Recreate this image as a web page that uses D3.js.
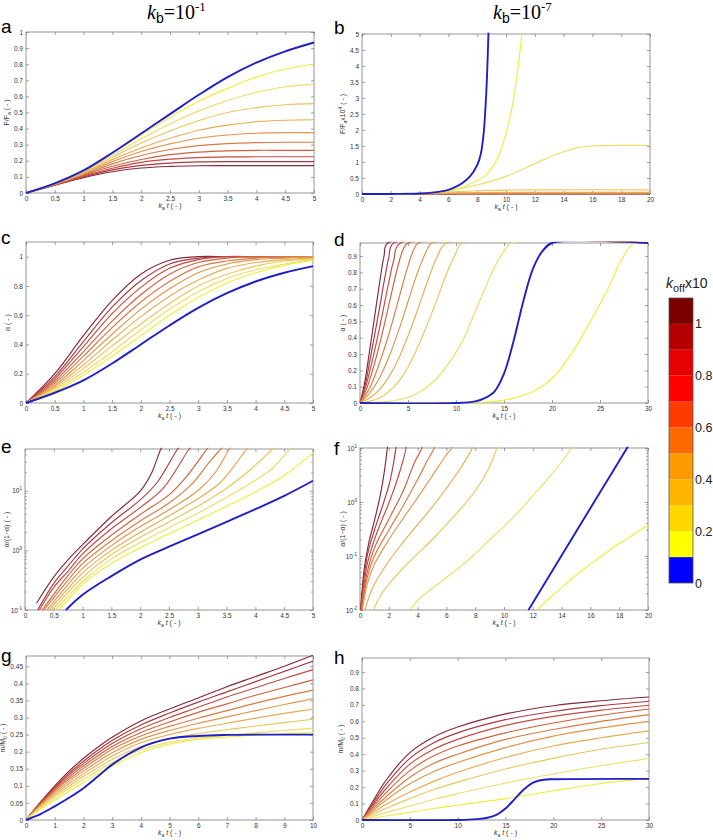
<!DOCTYPE html>
<html><head><meta charset="utf-8">
<script src="https://cdn.jsdelivr.net/npm/d3@7"></script>
<style>body{margin:0;background:#fff}svg{display:block}</style>
</head><body><svg id="chart" width="713" height="840"></svg>
<script>
// ---------------- categories / colours ----------------
const koffValues = [0,0.1,0.2,0.3,0.4,0.5,0.6,0.7,0.8,0.9,1.0];
const lineColors = ["#1f1fc8","#f2ec3c","#eedc68","#ebc55c","#e7ad52","#e29449","#da7a44","#d0613f","#c24b41","#a93a41","#84283b"];
const barColors  = ["#0000ff","#ffff00","#ffd800","#ffb400","#ff9a00","#ff6a00","#ff3c00","#ff0000","#e60000","#b40000","#7a0000"];
const barTickLabels = [0,0.2,0.4,0.6,0.8,1];

// ---------------- panel a : F/Fa, kb=1e-1 ----------------
const aX = [0,0.5,1,1.5,2,2.5,3,3.5,4,4.5,5];
const aBlue = [0,.06,.14,.25,.37,.49,.61,.72,.81,.88,.935];
const aK = [
 [0,.06,.14,.25,.36,.47,.57,.65,.72,.77,.80],
 [0,.06,.135,.235,.335,.43,.51,.575,.625,.66,.675],
 [0,.06,.13,.222,.31,.385,.45,.50,.53,.548,.555],
 [0,.055,.125,.208,.28,.34,.39,.422,.443,.452,.455],
 [0,.055,.12,.195,.258,.305,.34,.36,.371,.375,.375],
 [0,.055,.115,.181,.233,.27,.294,.307,.313,.315,.315],
 [0,.05,.11,.166,.208,.238,.254,.262,.265,.265,.265],
 [0,.05,.105,.154,.19,.21,.22,.224,.225,.225,.225],
 [0,.05,.10,.144,.172,.186,.193,.195,.195,.195,.195],
 [0,.048,.095,.132,.155,.165,.169,.17,.17,.17,.17]];

// ---------------- panel b : F/Fa x1e4, kb=1e-7 ----------------
const bBlue = [[0,0],[2,0.002],[4,0.015],[5,0.05],[6,0.13],[6.5,0.22],[7,0.35],[7.5,0.55],[8,0.9],[8.25,1.25],[8.45,1.9],[8.6,2.9],[8.7,3.9],[8.78,5.0],[8.83,5.6]];
const bK = [
 [[0,0],[2,0.002],[4,0.02],[5,0.05],[6,0.1],[7,0.22],[8,0.42],[8.5,0.55],[9,0.8],[9.5,1.2],[10,1.9],[10.5,2.9],[10.85,4.0],[11.1,5.0],[11.2,5.5]],
 [[0,0],[2,0.002],[4,0.02],[6,0.1],[8,0.28],[10,0.55],[12,0.95],[13,1.15],[14,1.32],[15,1.45],[16,1.5],[18,1.52],[20,1.52]],
 [[0,0],[4,0.01],[6,0.06],[8,0.1],[10,0.12],[12,0.13],[20,0.13]],
 [[0,0],[4,0.01],[6,0.03],[8,0.045],[10,0.05],[20,0.05]],
 [[0,0],[4,0.008],[6,0.022],[8,0.03],[20,0.03]],
 [[0,0],[4,0.006],[6,0.016],[8,0.02],[20,0.02]],
 [[0,0],[4,0.005],[6,0.012],[8,0.015],[20,0.015]],
 [[0,0],[4,0.004],[6,0.01],[8,0.012],[20,0.012]],
 [[0,0],[4,0.003],[6,0.008],[8,0.01],[20,0.01]],
 [[0,0],[4,0.003],[6,0.006],[8,0.008],[20,0.008]]];

// ---------------- panel c : alpha, kb=1e-1 ----------------
const cX = [0,0.5,1,1.5,2,2.5,3,3.5,4,4.5,5];
const cBlue = [0,.07,.155,.27,.40,.53,.65,.75,.83,.89,.935];
const cK = [
 [0,.08,.19,.32,.46,.60,.72,.82,.89,.94,.975],
 [0,.09,.21,.35,.50,.64,.76,.85,.91,.95,.98],
 [0,.10,.235,.39,.54,.68,.80,.88,.935,.97,.985],
 [0,.11,.26,.43,.59,.73,.84,.92,.96,.98,.99],
 [0,.12,.29,.47,.64,.78,.89,.95,.98,.99,1],
 [0,.135,.32,.515,.69,.83,.93,.97,.99,1,1],
 [0,.15,.35,.56,.74,.88,.96,.99,1,1,1],
 [0,.165,.385,.61,.79,.92,.98,1,1,1,1],
 [0,.18,.42,.655,.835,.95,.99,1,1,1,1],
 [0,.2,.46,.70,.88,.975,1,1,1,1,1]];

// ---------------- panel d : alpha, kb=1e-7 ----------------
const dBlue = [[0,0],[10,0],[12,0.01],[13,0.03],[14,0.07],[15,0.18],[16,0.38],[16.5,0.5],[17,0.62],[18,0.82],[19,0.93],[20,0.98],[30,0.98]];
const dK = [
 [[0,0],[10,0.002],[14,0.01],[16,0.03],[18,0.07],[20,0.15],[22,0.3],[24,0.5],[26,0.72],[27,0.85],[28,0.95],[28.6,0.98],[30,0.98]],
 [[0,0],[2,0.005],[4,0.02],[6,0.06],[8,0.15],[10,0.31],[11,0.42],[12,0.56],[13,0.7],[14,0.83],[15,0.93],[15.8,0.98],[30,0.98]],
 [[0,0],[1,0.01],[2,0.03],[3,0.07],[4,0.13],[5,0.22],[6,0.34],[7,0.48],[8,0.63],[9,0.79],[10,0.92],[10.6,0.98],[30,0.98]],
 [[0,0],[1,0.03],[2,0.08],[3,0.16],[4,0.27],[5,0.41],[6,0.57],[7,0.74],[8,0.89],[9,0.98],[30,0.98]],
 [[0,0],[1,0.06],[2,0.15],[3,0.28],[4,0.44],[5,0.62],[6,0.8],[7,0.94],[7.5,0.98],[30,0.98]],
 [[0,0],[1,0.09],[2,0.24],[3,0.42],[4,0.63],[5,0.84],[5.6,0.94],[6.1,0.98],[30,0.98]],
 [[0,0],[0.5,0.06],[1,0.14],[2,0.35],[3,0.6],[4,0.85],[4.5,0.94],[5,0.98],[30,0.98]],
 [[0,0],[0.5,0.08],[1,0.19],[2,0.45],[3,0.74],[3.5,0.87],[4.2,0.98],[30,0.98]],
 [[0,0],[0.5,0.1],[1,0.25],[2,0.57],[2.5,0.74],[3,0.89],[3.5,0.98],[30,0.98]],
 [[0,0],[0.5,0.13],[1,0.32],[1.5,0.52],[2,0.72],[2.5,0.9],[2.9,0.98],[30,0.98]]];

// ---------------- panel e : alpha/(1-alpha), kb=1e-1 (log) ----------------
const eBlue = [[0.71,0.1],[1,0.18],[1.5,0.37],[2,0.7],[2.5,1.15],[3,1.85],[3.5,3.0],[4,4.9],[4.5,8.2],[5,14.7]];
const eK = [
 [[0.58,0.1],[0.75,0.15],[1,0.27],[1.5,0.6],[2,1.1],[2.5,1.9],[3,3.2],[3.5,5.5],[4,9.5],[4.5,18],[5,43]],
 [[0.52,0.1],[0.75,0.17],[1,0.3],[1.5,0.72],[2,1.35],[2.5,2.4],[3,4.2],[3.5,7.8],[4,15],[4.3,24],[4.6,50],[4.65,56]],
 [[0.47,0.1],[0.75,0.2],[1,0.35],[1.5,0.85],[2,1.65],[2.5,3.0],[3,5.5],[3.5,11],[3.9,22],[4.3,50],[4.35,56]],
 [[0.42,0.1],[0.75,0.23],[1,0.42],[1.5,1.0],[2,2.0],[2.5,3.8],[3,7.3],[3.4,14],[3.85,50],[3.9,56]],
 [[0.38,0.1],[0.75,0.27],[1,0.5],[1.5,1.2],[2,2.5],[2.5,4.8],[3,10],[3.3,20],[3.55,50],[3.6,56]],
 [[0.33,0.1],[0.75,0.32],[1,0.6],[1.5,1.45],[2,3.1],[2.5,6.2],[2.9,13],[3.2,30],[3.4,50],[3.45,56]],
 [[0.3,0.1],[0.75,0.38],[1,0.72],[1.5,1.8],[2,4.0],[2.5,8.5],[2.8,17],[3.16,50],[3.2,56]],
 [[0.25,0.1],[0.5,0.24],[0.75,0.45],[1,0.87],[1.5,2.3],[2,5.2],[2.4,11],[2.85,50],[2.9,56]],
 [[0.22,0.1],[0.5,0.28],[0.75,0.55],[1,1.05],[1.5,2.9],[2,7.0],[2.3,14],[2.65,50],[2.7,56]],
 [[0.2,0.13],[0.5,0.36],[0.75,0.7],[1,1.25],[1.5,3.7],[2,9.8],[2.2,20],[2.36,50],[2.4,56]]];

// ---------------- panel f : alpha/(1-alpha), kb=1e-7 (log) ----------------
const fBlue = [[11.7,0.01],[13.98,0.1],[16.26,1],[18.54,10],[18.7,12]];
const fK = [
 [[12.3,0.01],[13,0.015],[14,0.026],[15,0.044],[16,0.07],[17,0.11],[18,0.17],[19,0.25],[20,0.38]],
 [[3.48,0.01],[4,0.015],[5,0.025],[6,0.04],[7,0.065],[8,0.11],[9,0.2],[10,0.35],[11,0.65],[12,1.3],[13,2.6],[14,5.5],[14.67,10],[14.8,12]],
 [[0.93,0.01],[1.5,0.02],[2,0.03],[3,0.06],[4,0.11],[5,0.2],[6,0.38],[7,0.75],[8,1.6],[9,4.5],[9.5,10],[9.6,12]],
 [[0.35,0.01],[0.7,0.02],[1,0.03],[2,0.08],[3,0.18],[4,0.38],[5,0.8],[6,1.8],[7,4.3],[7.8,10],[7.9,12]],
 [[0.16,0.01],[0.5,0.03],[1,0.07],[2,0.2],[3,0.5],[4,1.2],[5,3.0],[6,7.5],[6.37,10],[6.45,12]],
 [[0.12,0.01],[0.5,0.04],[1,0.1],[2,0.3],[3,0.85],[4,2.6],[4.7,6],[5.15,10],[5.2,12]],
 [[0.1,0.01],[0.5,0.05],[1,0.14],[2,0.48],[3,1.6],[3.8,5.5],[4.3,10],[4.35,12]],
 [[0.07,0.01],[0.5,0.07],[1,0.2],[1.5,0.45],[2,0.95],[2.5,2.2],[3,6],[3.2,10],[3.25,12]],
 [[0.05,0.01],[0.5,0.1],[1,0.3],[1.5,0.75],[2,2.0],[2.25,4.0],[2.5,10],[2.55,12]],
 [[0.04,0.01],[0.3,0.06],[0.6,0.17],[1,0.45],[1.4,1.3],[1.7,3.8],[1.9,10],[1.95,12]]];

// ---------------- panel g : m/M0, kb=1e-1 ----------------
const gX = [0,0.5,1,1.5,2,2.5,3,4,5,6,7,8,9,10];
const gBlue = [0,.017,.04,.065,.093,.127,.162,.212,.238,.246,.249,.25,.25,.25];
const gK = [
 [0,.032,.058,.084,.11,.135,.158,.197,.222,.236,.243,.248,.252,.256],
 [0,.035,.064,.092,.119,.144,.168,.205,.228,.24,.248,.255,.262,.268],
 [0,.038,.07,.099,.127,.153,.177,.215,.238,.253,.264,.275,.285,.295],
 [0,.041,.075,.106,.135,.162,.187,.226,.25,.268,.283,.298,.312,.325],
 [0,.043,.08,.113,.143,.171,.197,.236,.262,.283,.302,.32,.338,.355],
 [0,.045,.085,.12,.151,.18,.207,.246,.274,.298,.32,.342,.362,.38],
 [0,.047,.089,.126,.158,.188,.215,.256,.287,.315,.34,.365,.388,.41],
 [0,.049,.093,.132,.165,.196,.224,.267,.3,.33,.36,.387,.414,.44],
 [0,.05,.096,.137,.172,.204,.233,.278,.313,.345,.375,.405,.435,.465],
 [0,.052,.1,.143,.18,.213,.242,.29,.325,.357,.39,.42,.45,.482]];

// ---------------- panel h : m/M0, kb=1e-7 ----------------
const hX = [0,1,2.5,5,7.5,10,15,20,25,30];
const hBlue = [[0,0],[10,0],[12,0.005],[13,0.012],[14,0.03],[15,0.07],[16,0.13],[17,0.19],[18,0.23],[19,0.245],[20,0.248],[30,0.25]];
const hK = [
 [0,.01,.024,.047,.07,.09,.13,.178,.222,.253],
 [0,.02,.045,.085,.125,.16,.225,.28,.33,.374],
 [0,.03,.07,.13,.185,.23,.31,.375,.43,.471],
 [0,.04,.095,.17,.235,.29,.38,.45,.50,.542],
 [0,.05,.12,.22,.295,.35,.44,.51,.56,.60],
 [0,.06,.14,.26,.345,.40,.49,.55,.60,.641],
 [0,.07,.165,.30,.39,.45,.53,.59,.637,.675],
 [0,.08,.19,.34,.43,.49,.575,.63,.668,.698],
 [0,.09,.215,.375,.47,.53,.61,.66,.695,.722],
 [0,.1,.24,.41,.505,.565,.645,.695,.725,.748]];

// ---------------- tick labels ----------------
const ticks05 = [0,0.5,1,1.5,2,2.5,3,3.5,4,4.5,5];
const ticks020 = [0,2,4,6,8,10,12,14,16,18,20];
const ticks030 = [0,5,10,15,20,25,30];
const ticks010 = [0,1,2,3,4,5,6,7,8,9,10];
const aYTicks = [0,0.1,0.2,0.3,0.4,0.5,0.6,0.7,0.8,0.9,1];
const bYTicks = [0,0.5,1,1.5,2,2.5,3,3.5,4,4.5,5];
const cYTicks = [0,0.2,0.4,0.6,0.8,1];
const dYTicks = [0,0.1,0.2,0.3,0.4,0.5,0.6,0.7,0.8,0.9];
const eYTicks = [0.1,1,10];
const fYTicks = [0.01,0.1,1,10];
const gYTicks = [0,0.05,0.1,0.15,0.2,0.25,0.3,0.35,0.4,0.45];
const hYTicks = [0,0.1,0.2,0.3,0.4,0.5,0.6,0.7,0.8,0.9];

// ---------------- build ----------------
const svg = d3.select("#chart");
const FONT = "Liberation Sans, Arial, sans-serif";
const zipX = (xs, ys) => xs.map((x,i)=>[x, ys[i]]);
function withBlue(blue, ks){ return [blue].concat(ks); }

const panels = [
 {id:"a", l:26, r:314, t:32, b:193, xd:[0,5], yd:[0,1], xt:ticks05, yt:aYTicks,
  curves: withBlue(zipX(aX,aBlue), aK.map(k=>zipX(aX,k))), yl:["F/F","a"," ( - )"], ylx:9, letter:[1,33]},
 {id:"b", l:362, r:650, t:34, b:194, xd:[0,20], yd:[0,5], xt:ticks020, yt:bYTicks,
  curves: withBlue(bBlue, bK), yl:["F/F","a","x10","4"," ( - )"], ylx:345, letter:[334,34]},
 {id:"c", l:26, r:313, t:242, b:403, xd:[0,5], yd:[0,1.1], xt:ticks05, yt:cYTicks,
  curves: withBlue(zipX(cX,cBlue), cK.map(k=>zipX(cX,k))), yl:["α ( - )"], ylx:10, letter:[1,244]},
 {id:"d", l:360, r:648, t:243, b:403, xd:[0,30], yd:[0,0.98], xt:ticks030, yt:dYTicks,
  curves: withBlue(dBlue, dK), yl:["α ( - )"], ylx:345, letter:[334,246]},
 {id:"e", l:25, r:313, t:449, b:610, xd:[0,5], yd:[0.1,50], log:true, xt:ticks05, yt:eYTicks,
  curves: withBlue(eBlue, eK), yl:["α/(1−α) ( - )"], ylx:9, letter:[1,453]},
 {id:"f", l:360, r:648, t:448, b:610, xd:[0,20], yd:[0.01,10], log:true, xt:ticks020, yt:fYTicks,
  curves: withBlue(fBlue, fK), yl:["α/(1−α) ( - )"], ylx:345, letter:[334,455]},
 {id:"g", l:26, r:313, t:656, b:820, xd:[0,10], yd:[0,0.48], xt:ticks010, yt:gYTicks,
  curves: withBlue(zipX(gX,gBlue), gK.map(k=>zipX(gX,k))), yl:["m/M","0"," ( - )"], ylx:5, letter:[1,662]},
 {id:"h", l:362, r:649, t:658, b:820, xd:[0,30], yd:[0,0.985], xt:ticks030, yt:hYTicks,
  curves: withBlue(hBlue, hK.map(k=>zipX(hX,k))), yl:["m/M","0"," ( - )"], ylx:343, letter:[334,664]}
];

const defs = svg.append("defs");
function styleAxis(sel){
  sel.select(".domain").remove();
  sel.selectAll(".tick line").attr("stroke","#777").attr("stroke-width",0.7);
  sel.selectAll(".tick text").attr("fill","#333").attr("font-size",6.5).attr("font-family",FONT);
}

panels.forEach(p=>{
  const g = svg.append("g");
  const x = d3.scaleLinear().domain(p.xd).range([p.l,p.r]);
  const y = (p.log ? d3.scaleLog() : d3.scaleLinear()).domain(p.yd).range([p.b,p.t]);

  g.append("rect").attr("x",p.l).attr("y",p.t).attr("width",p.r-p.l).attr("height",p.b-p.t)
    .attr("fill","#fff").attr("stroke","#8a8a8a").attr("stroke-width",0.9);

  const fmt = d3.format("~g");
  const bx = g.append("g").attr("transform",`translate(0,${p.b})`)
    .call(d3.axisBottom(x).tickValues(p.xt).tickSize(-3).tickPadding(3).tickFormat(fmt));
  styleAxis(bx);
  const tx = g.append("g").attr("transform",`translate(0,${p.t})`)
    .call(d3.axisTop(x).tickValues(p.xt).tickSize(-3).tickFormat(""));
  styleAxis(tx);
  let minor = [];
  if (p.log){
    const lo = Math.log10(p.yd[0]), hi = Math.log10(p.yd[1]);
    for (let e=Math.floor(lo); e<=Math.ceil(hi); e++) for (let m=2;m<=9;m++){
      const v = m*Math.pow(10,e); if (v>p.yd[0] && v<p.yd[1]) minor.push(v);
    }
  }
  const ly = g.append("g").attr("transform",`translate(${p.l},0)`)
    .call(d3.axisLeft(y).tickValues(p.yt).tickSize(-3).tickPadding(3).tickFormat(p.log? ()=>"" : fmt));
  styleAxis(ly);
  const ry = g.append("g").attr("transform",`translate(${p.r},0)`)
    .call(d3.axisRight(y).tickValues(p.yt).tickSize(-3).tickFormat(""));
  styleAxis(ry);
  if (p.log){
    [[p.l,1],[p.r,-1]].forEach(([xx,dir])=>{
      g.selectAll(null).data(minor).enter().append("line")
        .attr("x1",xx).attr("x2",xx+dir*2).attr("y1",d=>y(d)).attr("y2",d=>y(d))
        .attr("stroke","#777").attr("stroke-width",0.6);
    });
    p.yt.forEach(v=>{
      const ex = Math.round(Math.log10(v));
      const t = g.append("text").attr("x",p.l-3).attr("y",y(v)+2.5).attr("text-anchor","end")
        .attr("font-size",6.5).attr("font-family",FONT).attr("fill","#333");
      t.append("tspan").text("10");
      t.append("tspan").attr("dy",-3).attr("font-size",4.5).text(ex);
    });
  }

  defs.append("clipPath").attr("id","clip-"+p.id).append("rect")
    .attr("x",p.l-1).attr("y",p.t-1.2).attr("width",p.r-p.l+2).attr("height",p.b-p.t+2.2);
  const line = d3.line().x(d=>x(d[0])).y(d=>y(d[1])).curve(d3.curveCatmullRom.alpha(0.5));
  const cg = g.append("g").attr("clip-path",`url(#clip-${p.id})`);
  const order = d3.range(p.curves.length).reverse().filter(i=>i!==0).concat([0]);
  order.forEach(i=>{
    cg.append("path").datum(p.curves[i]).attr("d",line).attr("fill","none")
      .attr("stroke",lineColors[i]).attr("stroke-width", i===0?1.9:1.15)
      .attr("stroke-linejoin","round");
  });

  const xl = g.append("text").attr("x",(p.l+p.r)/2).attr("y",p.b+15).attr("text-anchor","middle")
    .attr("font-size",7).attr("font-family",FONT).attr("fill","#333");
  xl.append("tspan").attr("font-style","italic").text("k");
  xl.append("tspan").attr("font-size",5).attr("dy",2).text("a");
  xl.append("tspan").attr("font-style","italic").attr("dy",-2).text(" t");
  xl.append("tspan").text(" ( - )");

  const cy = (p.t+p.b)/2;
  const yl = g.append("text").attr("transform",`translate(${p.ylx},${cy}) rotate(-90)`)
    .attr("text-anchor","middle").attr("font-size",7).attr("font-family",FONT).attr("fill","#333");
  if (p.yl.length===1){ yl.append("tspan").text(p.yl[0]); }
  else if (p.yl.length===3){
    yl.append("tspan").text(p.yl[0]);
    yl.append("tspan").attr("font-size",5).attr("dy",2).text(p.yl[1]);
    yl.append("tspan").attr("dy",-2).text(p.yl[2]);
  } else {
    yl.append("tspan").text(p.yl[0]);
    yl.append("tspan").attr("font-size",5).attr("dy",2).text(p.yl[1]);
    yl.append("tspan").attr("dy",-2).text(p.yl[2]);
    yl.append("tspan").attr("font-size",5).attr("dy",-3).text(p.yl[3]);
    yl.append("tspan").attr("dy",3).text(p.yl[4]);
  }

  svg.append("text").attr("x",p.letter[0]).attr("y",p.letter[1]).attr("font-size",19)
    .attr("font-family",FONT).attr("fill","#000").text(p.id);
});

// column titles
[["-1",147],["-7",493]].forEach(([ex,xx])=>{
  const t = svg.append("text").attr("x",xx).attr("y",19).attr("font-size",20)
    .attr("font-family","Liberation Serif, Times New Roman, serif").attr("fill","#000");
  t.append("tspan").attr("font-style","italic").text("k");
  t.append("tspan").attr("font-family",FONT).attr("font-size",14).attr("dy",4).text("b");
  t.append("tspan").attr("dy",-4).text("=10");
  t.append("tspan").attr("font-size",13).attr("dy",-8).text(ex);
});

// colour bar
const cb = d3.scaleLinear().domain([0,1.1]).range([583,298]);
const cbg = svg.append("g");
barColors.forEach((c,i)=>{
  cbg.append("rect").attr("x",669).attr("width",24)
    .attr("y",cb((i+1)*0.1)).attr("height",cb(i*0.1)-cb((i+1)*0.1)).attr("fill",c);
});
cbg.append("rect").attr("x",669).attr("y",cb(1.1)).attr("width",24).attr("height",cb(0)-cb(1.1))
  .attr("fill","none").attr("stroke","#555").attr("stroke-width",0.8);
barTickLabels.forEach(v=>{
  cbg.append("text").attr("x",695).attr("y",cb(v)+4.5).attr("font-size",12.5)
    .attr("font-family",FONT).attr("fill","#222").text(v);
});
const ct = svg.append("text").attr("x",666).attr("y",288).attr("font-size",14)
  .attr("font-family",FONT).attr("fill","#222");
ct.append("tspan").attr("font-style","italic").text("k");
ct.append("tspan").attr("font-size",11).attr("dy",4).text("off");
ct.append("tspan").attr("dy",-4).text("x10");
</script></body></html>
